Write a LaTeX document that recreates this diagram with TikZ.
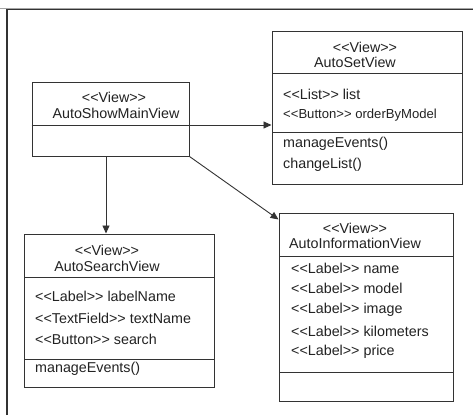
\documentclass[tikz,border=0pt]{standalone}
\usepackage{fontspec}
\setmainfont{Liberation Sans}
\usetikzlibrary{arrows.meta,calc}
\definecolor{linecol}{HTML}{333333}
\definecolor{txtcol}{HTML}{222222}
\newcommand{\stereo}[1]{<{}<#1>{}>}
\tikzset{
  classbox/.style={draw=linecol, line width=1pt, rectangle, inner sep=0pt, fill=white},
  sepline/.style={draw=linecol, line width=1pt},
  txt/.style={inner sep=0pt, text=txtcol, font=\fontsize{14.3}{15}\selectfont, anchor=west},
  ctxt/.style={inner sep=0pt, text=txtcol, font=\fontsize{14.3}{15}\selectfont},
  assoc/.style={draw=linecol, line width=0.9pt, -{Triangle[length=8pt,width=7pt]}},
}
\begin{document}
\begin{tikzpicture}[x=1pt,y=-1pt]
\useasboundingbox (0,0) rectangle (473,415);
\fill[white] (0,0) rectangle (473,415);
% frame
\draw[color=black!35, line width=1pt] (0,8) -- (473,8);
\draw[linecol, line width=1.2pt] (7,415) -- (7,9.5) -- (473,9.5);

% AutoShowMainView
\node[classbox, minimum width=157pt, minimum height=74pt] (main) at (110.5,119) {};
\coordinate (mainsep) at (189,125);
\draw[sepline] (main.west |- mainsep) -- (mainsep);
\node[ctxt] (mainst) at (114,97) {\stereo{View}};
\node[ctxt] (mainname) at (116,113) {AutoShowMainView};

% AutoSetView
\node[classbox, minimum width=190pt, minimum height=153pt] (setv) at (367,107.5) {};
\draw[sepline] (272,73) -- (462,73);
\draw[sepline] (272,132) -- (462,132);
\node[ctxt] (setst) at (365,47) {\stereo{View}};
\node[ctxt] (setname) at (355,62) {AutoSetView};
\node[txt] (seta1) at (283,94) {\stereo{List} list};
\node[txt, font=\fontsize{13.1}{14}\selectfont] (seta2) at (283,115) {\stereo{Button} orderByModel};
\node[txt] (setm1) at (283,144) {manageEvents()};
\node[txt] (setm2) at (283,165) {changeList()};

% AutoSearchView
\node[classbox, minimum width=190pt, minimum height=153pt] (search) at (119,310.5) {};
\draw[sepline] (24,277) -- (214,277);
\draw[sepline] (24,359) -- (214,359);
\node[ctxt] (searchst) at (107,250) {\stereo{View}};
\node[ctxt] (searchname) at (107,266) {AutoSearchView};
\node[txt] (searcha1) at (35,296) {\stereo{Label} labelName};
\node[txt] (searcha2) at (35,318) {\stereo{TextField} textName};
\node[txt] (searcha3) at (35,339) {\stereo{Button} search};
\node[txt] (searchm1) at (35,369) {manageEvents()};

% AutoInformationView
\node[classbox, minimum width=174pt, minimum height=188pt] (info) at (366,307) {};
\draw[sepline] (279,256) -- (453,256);
\draw[sepline] (279,372) -- (453,372);
\node[ctxt] (infost) at (355,228) {\stereo{View}};
\node[ctxt] (infoname) at (355,243) {AutoInformationView};
\node[txt] (infoa1) at (291,268) {\stereo{Label} name};
\node[txt] (infoa2) at (291,288) {\stereo{Label} model};
\node[txt] (infoa3) at (291,310) {\stereo{Label} image};
\node[txt] (infoa4) at (291,331) {\stereo{Label} kilometers};
\node[txt] (infoa5) at (291,352) {\stereo{Label} price};

% connectors
\draw[assoc] (mainsep) -- (mainsep -| setv.west);
\draw[assoc] ([xshift=-4.5pt]main.south) -- ([xshift=-4.5pt]main.south |- search.north);
\draw[assoc] (main.south east) -- ([yshift=-7pt]info.north west);
\end{tikzpicture}
\end{document}
